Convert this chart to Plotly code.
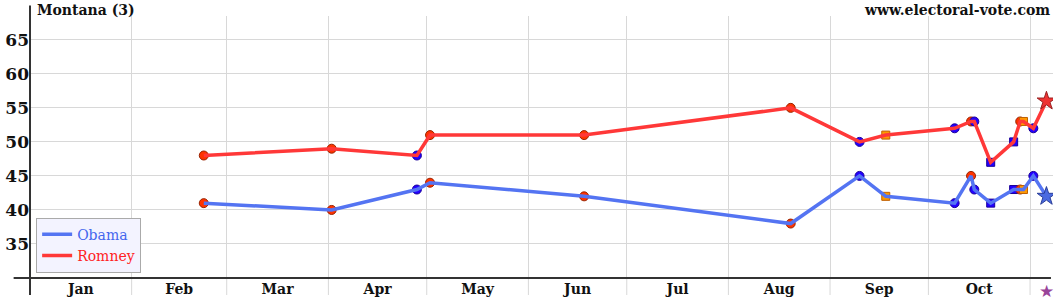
import plotly.graph_objects as go

# ---------------- data ----------------
poll_dates = ["2012-02-23", "2012-04-02", "2012-04-28", "2012-05-02", "2012-06-18",
              "2012-08-20", "2012-09-10", "2012-09-18", "2012-10-09", "2012-10-14",
              "2012-10-15", "2012-10-20", "2012-10-27", "2012-10-29", "2012-10-30",
              "2012-11-02", "2012-11-06"]
obama = [41, 40, 43, 44, 42, 38, 45, 42, 41, 45, 43, 41, 43, 43, 43, 45, 42]
romney = [48, 49, 48, 51, 51, 55, 50, 51, 52, 53, 53, 47, 50, 53, 53, 52, 56]
poll_kind = ["R", "R", "D", "R", "R", "R", "D", "I", "D", "R", "D", "DS", "DS", "R", "I", "D", "F"]
election_day = "2012-11-06"
month_starts = ["2012-01-01", "2012-02-01", "2012-03-01", "2012-04-01", "2012-05-01",
                "2012-06-01", "2012-07-01", "2012-08-01", "2012-09-01", "2012-10-01",
                "2012-11-01"]
y_ticks = [35, 40, 45, 50, 55, 60, 65]
title_left = "Montana (3)"
title_right = "www.electoral-vote.com"

# ---------------- style ----------------
FONT = "DejaVu Serif"
GRID = "#d8d8d8"
kind_style = {
    "R": dict(symbol="circle", color="#ff3300", line="#992200", size=9),
    "D": dict(symbol="circle", color="#2200ff", line="#1a0099", size=9),
    "DS": dict(symbol="square", color="#2200ff", line="#1a0099", size=8),
    "I": dict(symbol="square", color="#ff9900", line="#c06000", size=8),
}
OBAMA_LINE = "#5474f2"
ROMNEY_LINE = "#ff3838"

fig = go.Figure()

# poll markers (under lines)
for series in (obama, romney):
    xs, ys, sym, col, lc, sz = [], [], [], [], [], []
    for d, v, k in zip(poll_dates, series, poll_kind):
        if k in kind_style:
            s = kind_style[k]
            xs.append(d); ys.append(v); sym.append(s["symbol"])
            col.append(s["color"]); lc.append(s["line"]); sz.append(s["size"])
    fig.add_trace(go.Scatter(
        x=xs, y=ys, mode="markers", showlegend=False, hoverinfo="skip",
        marker=dict(symbol=sym, color=col, size=sz, opacity=1, line=dict(color=lc, width=1))))

# lines
fig.add_trace(go.Scatter(
    x=poll_dates, y=obama, mode="lines",
    name="<span style='color:#4466ee'>Obama</span>",
    line=dict(color=OBAMA_LINE, width=3.5)))
fig.add_trace(go.Scatter(
    x=poll_dates, y=romney, mode="lines",
    name="<span style='color:#ff2222'>Romney</span>",
    line=dict(color=ROMNEY_LINE, width=3.5)))

# final-prediction stars
fx = [d for d, k in zip(poll_dates, poll_kind) if k == "F"]
fig.add_trace(go.Scatter(
    x=fx, y=[v for v, k in zip(obama, poll_kind) if k == "F"], mode="markers",
    showlegend=False, hoverinfo="skip",
    marker=dict(symbol="star", size=14, color="#4a6ae0", line=dict(color="#2a3f99", width=1))))
fig.add_trace(go.Scatter(
    x=fx, y=[v for v, k in zip(romney, poll_kind) if k == "F"], mode="markers",
    showlegend=False, hoverinfo="skip",
    marker=dict(symbol="star", size=14, color="#ee3333", line=dict(color="#992222", width=1))))

shapes = []
# vertical grid extension below the axis
for m in month_starts[1:]:
    shapes.append(dict(type="line", xref="x", yref="paper", x0=m, x1=m, y0=0, y1=-0.065,
                       line=dict(color=GRID, width=1), layer="below"))
# axis lines extending beyond plot area
shapes.append(dict(type="line", xref="paper", yref="paper", x0=-0.016, x1=0.998, y0=0, y1=0,
                   line=dict(color="#333333", width=2)))
shapes.append(dict(type="line", xref="paper", yref="paper", x0=0, x1=0, y0=-0.065, y1=1.04,
                   line=dict(color="#333333", width=2)))

fig.update_layout(
    width=1060, height=300,
    margin=dict(l=30, r=7, t=16, b=22),
    paper_bgcolor="white", plot_bgcolor="white",
    font=dict(family=FONT, color="#111111"),
    showlegend=True,
    legend=dict(x=0.006, y=0.02, xanchor="left", yanchor="bottom",
                bgcolor="#f3f3ff", bordercolor="#aaaaaa", borderwidth=1,
                font=dict(family=FONT, size=14), tracegroupgap=0,
                itemwidth=30),
    shapes=shapes,
    annotations=[
        dict(text="<b>" + title_left + "</b>", xref="paper", yref="paper", x=0.005, y=1.0,
             xanchor="left", yanchor="bottom", yshift=-4, showarrow=False,
             font=dict(family=FONT, size=14, color="#111111")),
        dict(text="<b>" + title_right + "</b>", xref="paper", yref="paper", x=0.999, y=1.0,
             xanchor="right", yanchor="bottom", yshift=-4, showarrow=False,
             font=dict(family=FONT, size=14, color="#111111")),
        dict(text="★", xref="x", yref="paper", x=election_day, y=0, yanchor="top",
             yshift=-1, showarrow=False, font=dict(family="DejaVu Sans", size=17, color="#994499")),
    ],
)

fig.update_xaxes(
    type="date", range=["2012-01-01", "2012-11-08"], automargin=False,
    tick0="2012-01-01", dtick="M1", tickformat="<b>%b</b>", ticklabelmode="period",
    showgrid=True, gridcolor=GRID, gridwidth=1, ticks="", ticklabelstandoff=1,
    showline=False, zeroline=False,
    tickfont=dict(family=FONT, size=14, color="#111111"),
)
fig.update_yaxes(
    range=[30, 68.5], tickvals=y_ticks, ticktext=["<b>%d</b>" % v for v in y_ticks],
    automargin=False,
    showgrid=True, gridcolor=GRID, gridwidth=1, ticks="", showline=False, zeroline=False,
    tickfont=dict(family=FONT, size=17, color="#111111"),
)

fig.write_html("out.html")
